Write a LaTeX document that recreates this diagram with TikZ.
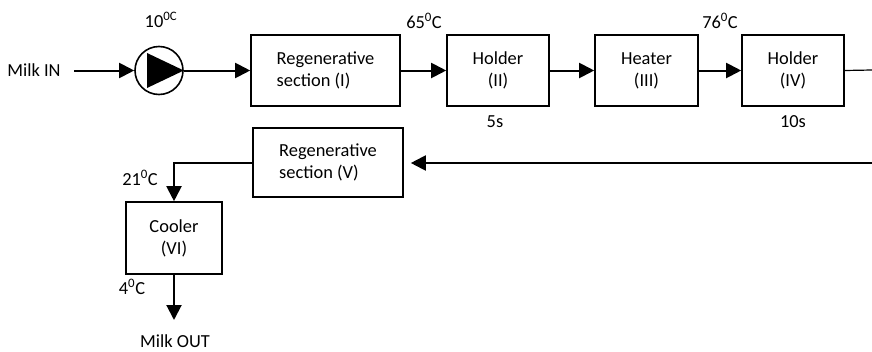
\documentclass[tikz,border=0pt]{standalone}
\usepackage{fontspec}
\setmainfont{Carlito}
\usetikzlibrary{arrows.meta}
\begin{document}
\begin{tikzpicture}[x=1pt,y=-1pt,
  font=\fontsize{18.4}{22}\selectfont,
  box/.style={draw,line width=1.6pt,inner sep=0pt,minimum height=71pt},
  lbl/.style={inner sep=0pt},
  flow/.style={line width=2pt,-{Triangle[length=15pt,width=15pt]}},
  plain/.style={line width=1.2pt}]
\useasboundingbox (0,0) rectangle (872,351);
% nodes
\node[lbl] (milkin) at (34,70) {Milk IN};
\node[draw,circle,line width=1.6pt,minimum size=48pt,inner sep=0pt] (pump) at (159,70.5) {};
\fill (147,53) -- (pump.east) -- (147,88) -- cycle;
\node[box,minimum width=149pt,align=left] (regen1) at (325.5,70.5) {Regenerative\\section (I)};
\node[box,minimum width=102pt,align=center] (holder2) at (498,70.5) {Holder\\(II)};
\node[box,minimum width=103pt,align=center] (heater3) at (646.5,70.5) {Heater\\(III)};
\node[box,minimum width=102pt,align=center] (holder4) at (793,70.5) {Holder\\(IV)};
\node[box,minimum width=150pt,minimum height=69pt,align=left] (regen5) at (328,162.5) {Regenerative\\section (V)};
\node[box,minimum width=96pt,minimum height=72pt,align=center] (cooler) at (174,238) {Cooler\\(VI)};
% labels
\node[lbl] (t10) at (161,20) {10\textsuperscript{0C}};
\node[lbl] (t65) at (424,21) {65\textsuperscript{0}C};
\node[lbl] (t5s) at (495,122) {5s};
\node[lbl] (t76) at (720,21) {76\textsuperscript{0}C};
\node[lbl] (t10s) at (793,122) {10s};
\node[lbl] (t21) at (140,178) {21\textsuperscript{0}C};
\node[lbl] (t4) at (132,287) {4\textsuperscript{0}C};
\node[lbl] (milkout) at (175,341) {Milk OUT};
% coordinates
\coordinate (inL) at (74,70.5);
\coordinate (outR) at (872,70);
\coordinate (inR) at (872,163);
\coordinate (outB) at (174,320);
% connectors
\draw[flow] (inL) -- (pump.west);
\draw[flow] (pump.east) -- (regen1.west);
\draw[flow] (regen1.east) -- (holder2.west);
\draw[flow] (holder2.east) -- (heater3.west);
\draw[flow] (heater3.east) -- (holder4.west);
\draw[plain] (holder4.east) -- (outR);
\draw[flow,shorten >=7pt] (inR) -- (regen5.east |- inR);
\draw[flow] (regen5.west) -| (cooler.north);
\draw[flow] (cooler.south) -- (outB);
\end{tikzpicture}
\end{document}
